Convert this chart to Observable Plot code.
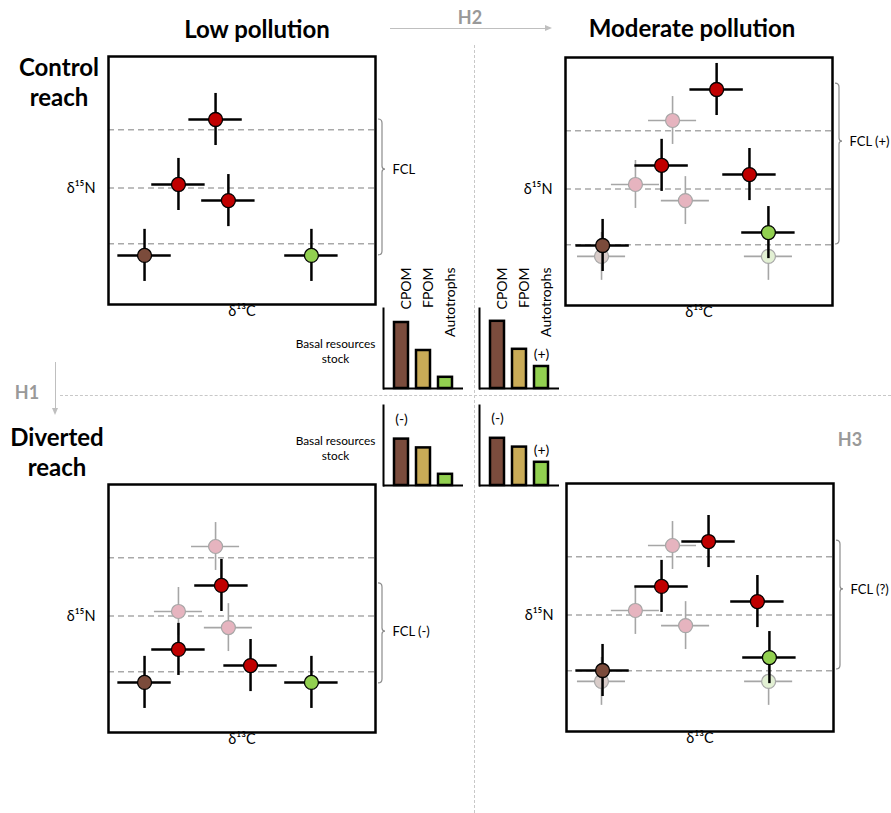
<!DOCTYPE html>
<html><head><meta charset="utf-8">
<script src="https://cdn.jsdelivr.net/npm/d3@7"></script>
<script src="https://cdn.jsdelivr.net/npm/@observablehq/plot@0.6"></script>
<style>
body{margin:0;background:#fff;font-family:Lato,"Open Sans",sans-serif;}
#root{position:relative;width:891px;height:813px;overflow:hidden;background:#fff;}
.abs{position:absolute;}
.title{font-weight:700;font-size:24px;color:#000;transform:translate(-50%,-50%);white-space:nowrap;}
.rowlab{font-weight:700;font-size:24px;line-height:30px;text-align:center;transform:translate(-50%,0);white-space:nowrap;}
.hyp{font-weight:700;font-size:18px;color:#999;transform:translate(-50%,-50%);}
.vdiv{border-left:1px dashed #c8c8c8;width:0;}
.hdiv{border-top:1px dashed #c8c8c8;height:0;}
.arrowline{background:#bfbfbf;}
</style></head>
<body><div id="root"></div>
<script>
// ---------- data ----------
const groups = ["Consumer", "CPOM", "Autotrophs"];
const trophicLevels = [24.5, 47, 70.5];           // dashed trophic-level guides (δ15N units)
const axisLabels = ["δ¹³C", "δ¹⁵N"];
const sdC = 10, sdN = 10.5;                        // crosshair half-extent (units)

// stable isotope positions (x = δ13C, y = δ15N, arbitrary units 0-100); ref = reference position (faded)
const controlLow = [
  {group: "Consumer", c: 40.1, n: 74.6, ref: false},
  {group: "Consumer", c: 26.2, n: 48.4, ref: false},
  {group: "Consumer", c: 44.9, n: 41.9, ref: false},
  {group: "CPOM", c: 13.5, n: 19.8, ref: false},
  {group: "Autotrophs", c: 76.0, n: 19.8, ref: false}
];
const controlModerate = [
  {group: "Consumer", c: 40.1, n: 74.6, ref: true},
  {group: "Consumer", c: 26.2, n: 48.8, ref: true},
  {group: "Consumer", c: 44.9, n: 42.3, ref: true},
  {group: "CPOM", c: 13.5, n: 19.8, ref: true},
  {group: "Autotrophs", c: 76.0, n: 19.8, ref: true},
  {group: "Consumer", c: 56.6, n: 87.1, ref: false},
  {group: "Consumer", c: 36.0, n: 56.5, ref: false},
  {group: "Consumer", c: 68.9, n: 52.8, ref: false},
  {group: "CPOM", c: 13.9, n: 24.2, ref: false},
  {group: "Autotrophs", c: 76.0, n: 29.4, ref: false}
];
const divertedLow = [
  {group: "Consumer", c: 40.1, n: 75.0, ref: true},
  {group: "Consumer", c: 26.2, n: 48.8, ref: true},
  {group: "Consumer", c: 44.9, n: 42.3, ref: true},
  {group: "Consumer", c: 42.3, n: 59.3, ref: false},
  {group: "Consumer", c: 26.2, n: 33.5, ref: false},
  {group: "Consumer", c: 53.2, n: 27.0, ref: false},
  {group: "CPOM", c: 13.5, n: 20.2, ref: false},
  {group: "Autotrophs", c: 76.0, n: 20.2, ref: false}
];
const divertedModerate = [
  {group: "Consumer", c: 39.7, n: 75.0, ref: true},
  {group: "Consumer", c: 25.8, n: 48.8, ref: true},
  {group: "Consumer", c: 44.6, n: 42.7, ref: true},
  {group: "CPOM", c: 13.1, n: 20.2, ref: true},
  {group: "Autotrophs", c: 75.7, n: 20.2, ref: true},
  {group: "Consumer", c: 53.2, n: 76.6, ref: false},
  {group: "Consumer", c: 35.6, n: 58.5, ref: false},
  {group: "Consumer", c: 71.5, n: 52.4, ref: false},
  {group: "CPOM", c: 13.5, n: 24.6, ref: false},
  {group: "Autotrophs", c: 76.0, n: 29.8, ref: false}
];

// food chain length brackets: [top, tip, bottom] in δ15N units
const fclControlLow = [74.6, 54.4, 19.8];
const fclControlModerate = [89.5, 66.1, 24.6];
const fclDivertedLow = [60.1, 40.7, 19.8];
const fclDivertedModerate = [77.0, 57.3, 25.0];
const fclLabels = ["FCL", "FCL (+)", "FCL (-)", "FCL (?)"];

// basal resources stock
const resources = ["CPOM", "FPOM", "Autotrophs"];
const stockControlLow = [8.25, 4.75, 1.4];
const stockControlModerate = [8.4, 4.9, 2.75];
const stockDivertedLow = [5.8, 4.7, 1.4];
const stockDivertedModerate = [5.9, 4.8, 2.9];
const notesControlLow = ["", "", ""];
const notesControlModerate = ["", "", "(+)"];
const notesDivertedLow = ["(-)", "", ""];
const notesDivertedModerate = ["(-)", "", "(+)"];
const stockLabel = "Basal resources\nstock";

const titles = ["Low pollution", "Moderate pollution"];
const rowTitles = ["Control\nreach", "Diverted\nreach"];
const hypotheses = ["H1", "H2", "H3"];

// ---------- styles ----------
const colorKeys = ["Consumer", "CPOM", "Autotrophs", "Consumer ref", "CPOM ref", "Autotrophs ref"];
const colorRange = ["#c00000", "#7b4b3b", "#92d050", "#e6b4bf", "#d9ccc9", "#e2f0d3"];
const barColors = ["#7b4c3d", "#c9ab57", "#92d050"];
const FONT = "Lato, 'Open Sans', sans-serif";

function bracket(span) {
  return (index, scales, values, dims) => {
    const xr = dims.width - dims.marginRight;
    const [t, m, b] = span.map(scales.y);
    const x0 = xr + 3, x1 = xr + 7, x2 = xr + 10;
    const d = `M${x0},${t} Q${x1},${t} ${x1},${t + 4} L${x1},${m - 3} Q${x1},${m} ${x2},${m} Q${x1},${m} ${x1},${m + 3} L${x1},${b - 4} Q${x1},${b} ${x0},${b}`;
    return d3.create("svg:path").attr("d", d).attr("fill", "none")
      .attr("stroke", "#8c8c8c").attr("stroke-width", 1.2).node();
  };
}

function isoPanel(points, span, label) {
  const ref = points.filter(d => d.ref), cur = points.filter(d => !d.ref);
  const key = d => d.ref ? d.group + " ref" : d.group;
  return Plot.plot({
    width: 60 + 267 + 58, height: 4 + 248 + 24,
    marginLeft: 60, marginRight: 58, marginTop: 4, marginBottom: 24,
    x: {domain: [0, 100], axis: null},
    y: {domain: [0, 100], axis: null},
    color: {domain: colorKeys, range: colorRange},
    style: {fontFamily: FONT, fontSize: "14px", background: "transparent", overflow: "visible"},
    marks: [
      Plot.ruleY(trophicLevels, {stroke: "#a9a9a9", strokeWidth: 1.5, strokeDasharray: "6,4"}),
      Plot.ruleY(ref, {y: "n", x1: d => d.c - sdC * 0.9, x2: d => d.c + sdC * 0.9, stroke: "#a6a6a6", strokeWidth: 1.6}),
      Plot.ruleX(ref, {x: "c", y1: d => d.n - sdN * 0.92, y2: d => d.n + sdN * 0.92, stroke: "#a6a6a6", strokeWidth: 1.6}),
      Plot.dot(ref, {x: "c", y: "n", r: 7, fill: key, stroke: "#a6a6a6", strokeWidth: 1.2}),
      Plot.ruleY(cur, {y: "n", x1: d => d.c - sdC, x2: d => d.c + sdC, stroke: "black", strokeWidth: 2.5}),
      Plot.ruleX(cur, {x: "c", y1: d => d.n - sdN, y2: d => d.n + sdN, stroke: "black", strokeWidth: 2.5}),
      Plot.dot(cur, {x: "c", y: "n", r: 7, fill: key, stroke: "black", strokeWidth: 1.3}),
      Plot.frame({stroke: "black", strokeWidth: 2.5}),
      Plot.text([axisLabels[1]], {text: d => d, x: 0, y: trophicLevels[1], dx: -13, textAnchor: "end", fontSize: 14.5}),
      Plot.text([axisLabels[0]], {text: d => d, frameAnchor: "bottom", dy: 11, fontSize: 14.5}),
      bracket(span),
      Plot.text([label], {text: d => d, frameAnchor: "right", y: span[1], dx: 17, textAnchor: "start", fontSize: 13})
    ]
  });
}

function stockPlot(values, notes, showLabels, showSide) {
  const data = resources.map((r, i) => ({resource: r, stock: values[i], note: notes[i]}));
  const ml = showSide ? 90 : 10;
  return Plot.plot({
    width: ml + 80 + 6, height: 45 + 80 + 3,
    marginLeft: ml, marginRight: 6, marginTop: 45, marginBottom: 3,
    x: {domain: resources, paddingInner: 0.38, paddingOuter: 0.47, axis: null},
    y: {domain: [0, 10], axis: null},
    color: {domain: resources, range: barColors},
    style: {fontFamily: FONT, fontSize: "14px", background: "transparent", overflow: "visible"},
    marks: [
      Plot.barY(data, {x: "resource", y: "stock", fill: "resource", stroke: "black", strokeWidth: 2.5}),
      Plot.ruleY([0], {stroke: "black", strokeWidth: 2}),
      Plot.frame({anchor: "left", stroke: "black", strokeWidth: 2}),
      showLabels ? Plot.text(data, {x: "resource", text: "resource", frameAnchor: "top", dy: -41, rotate: -90, textAnchor: "end", fontSize: 14}) : null,
      Plot.text(data.filter(d => d.note === "(+)"), {x: "resource", y: "stock", text: "note", dy: -12, fontSize: 14}),
      Plot.text(data.filter(d => d.note === "(-)"), {x: "resource", y: "stock", text: "note", dy: -20, fontSize: 14}),
      showSide ? Plot.text([stockLabel], {text: d => d, frameAnchor: "left", dx: -48, dy: 2, textAnchor: "middle", fontSize: 11.8, lineHeight: 1.3}) : null
    ]
  });
}

// ---------- layout ----------
const root = document.getElementById("root");
function place(node, left, top, cls) {
  const wrap = document.createElement("div");
  wrap.className = "abs" + (cls ? " " + cls : "");
  wrap.style.left = left + "px"; wrap.style.top = top + "px";
  if (typeof node === "string") wrap.innerText = node; else if (node) wrap.appendChild(node);
  root.appendChild(wrap);
  return wrap;
}

// dividers
const v = place(null, 474, 45, "vdiv"); v.style.height = "768px";
const h = place(null, 60, 395, "hdiv"); h.style.width = "831px";

// hypothesis arrows
const a2 = place(null, 390, 27.5, "arrowline"); a2.style.width = "156px"; a2.style.height = "1.5px";
const a2h = place(null, 545, 25, ""); a2h.style.cssText += "width:0;height:0;border-left:7px solid #bfbfbf;border-top:3.5px solid transparent;border-bottom:3.5px solid transparent;";
const a1 = place(null, 54.5, 362, "arrowline"); a1.style.width = "1.5px"; a1.style.height = "47px";
const a1h = place(null, 51.5, 408, ""); a1h.style.cssText += "width:0;height:0;border-top:7px solid #bfbfbf;border-left:3.5px solid transparent;border-right:3.5px solid transparent;";

place(hypotheses[1], 470, 17, "hyp");
place(hypotheses[0], 27, 392, "hyp");
place(hypotheses[2], 850, 439, "hyp");

place(titles[0], 257, 28, "title");
place(titles[1], 692, 27, "title");
const r1 = place(null, 59, 52, "rowlab"); r1.innerHTML = rowTitles[0].replace("\n", "<br>");
const r2 = place(null, 57, 422, "rowlab"); r2.innerHTML = rowTitles[1].replace("\n", "<br>");

// panels
place(isoPanel(controlLow, fclControlLow, fclLabels[0]), 48, 52);
place(isoPanel(controlModerate, fclControlModerate, fclLabels[1]), 505, 53);
place(isoPanel(divertedLow, fclDivertedLow, fclLabels[2]), 48, 480);
place(isoPanel(divertedModerate, fclDivertedModerate, fclLabels[3]), 506, 479);

// stock bars
place(stockPlot(stockControlLow, notesControlLow, true, true), 293, 263);
place(stockPlot(stockControlModerate, notesControlModerate, true, false), 469, 263);
place(stockPlot(stockDivertedLow, notesDivertedLow, false, true), 293, 360);
place(stockPlot(stockDivertedModerate, notesDivertedModerate, false, false), 469, 360);
</script>
</body></html>
